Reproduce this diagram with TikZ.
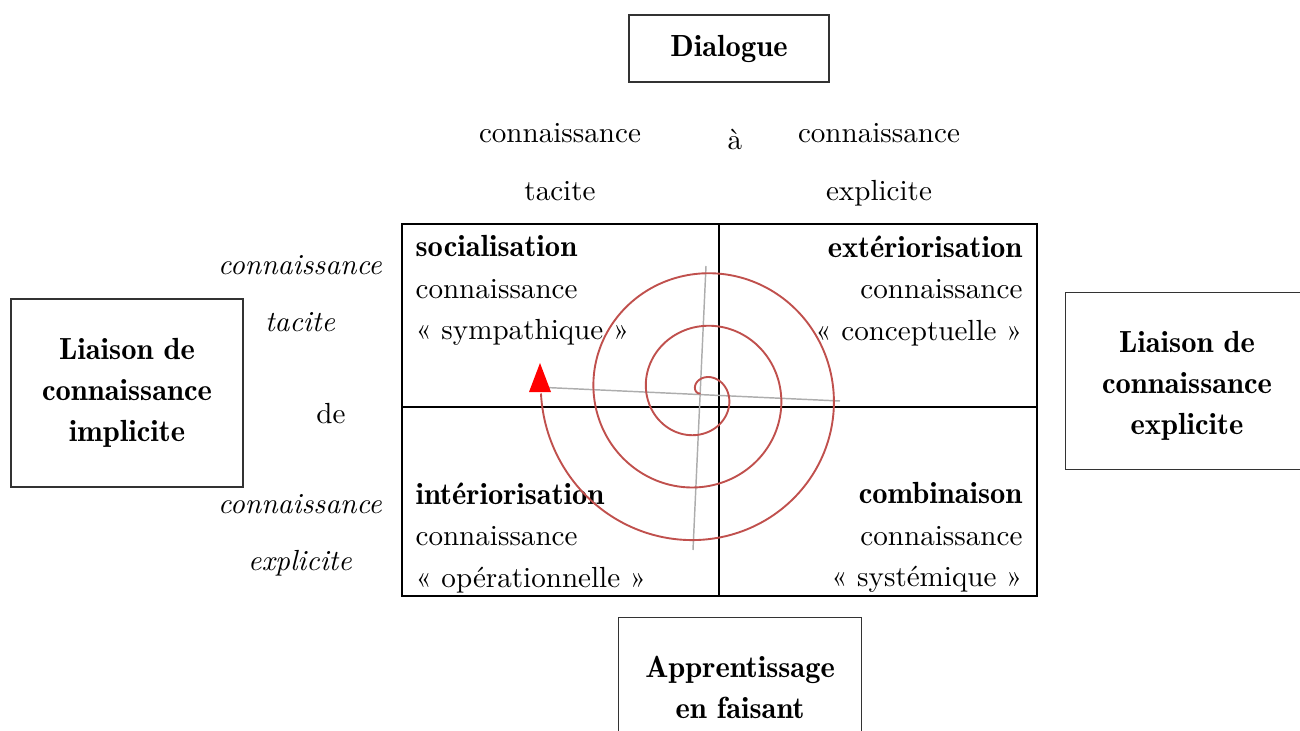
\documentclass[tikz,border=0pt]{standalone}
\definecolor{spiralred}{RGB}{192,80,77}
\newcommand\demi[1]{{\fontseries{b}\fontsize{10.5}{14.26}\selectfont #1}}
\tikzset{
  boxnode/.style={draw=black!80, line width=0.4pt, inner sep=0pt, align=center,
    font=\fontseries{b}\fontsize{10.5}{14.1}\selectfont},
  boxtext/.style={inner sep=0pt, align=center, font=\fontseries{b}\fontsize{10.5}{14.1}\selectfont},
  quadtext/.style={inner sep=0pt, font=\fontsize{10}{14.26}\selectfont},
  sidetext/.style={inner sep=0pt, align=center, font=\fontsize{10}{19.8}\selectfont},
  sideital/.style={inner sep=0pt, align=center, font=\itshape\fontsize{10}{19.6}\selectfont},
  plaintext/.style={inner sep=0pt},
  gridline/.style={line width=0.7pt},
  axisline/.style={draw=black!32, line width=0.5pt},
  spiralline/.style={draw=spiralred, line width=0.65pt},
}
\begin{document}
\begin{tikzpicture}[x=0.3436pt, y=-0.3436pt]
\useasboundingbox (0,0) rectangle (1300,731);

% boxes
\node[boxnode, minimum width=68.72pt, minimum height=23.02pt] (dialogue) at (729,48.5) {Dialogue};
\node[boxnode, minimum width=79.72pt, minimum height=64.6pt] (liaisonimp) at (127,393) {Liaison de\\connaissance\\implicite};
\node[boxnode, minimum width=83.84pt, minimum height=60.82pt, anchor=north west] (liaisonexp) at (1065,292) {};
\node[boxtext, anchor=north] (liaisonexptext) at (1187,331) {Liaison de\\connaissance\\explicite};
\node[boxnode, minimum width=83.5pt, minimum height=47.8pt, anchor=north west] (apprentissage) at (618,617) {Apprentissage\\en faisant};

% top labels
\node[sidetext, anchor=north] (toptacit) at (560,123) {connaissance\\tacite};
\node[plaintext, anchor=base] (topa) at (735,150) {à};
\node[sidetext, anchor=north] (topexplicit) at (879,123) {connaissance\\explicite};

% left labels
\node[sideital, anchor=north] (lefttacit) at (300,254.5) {connaissance\\tacite};
\node[plaintext, anchor=base] (leftde) at (331,423) {de};
\node[sideital, anchor=north] (leftexplicit) at (300,494) {connaissance\\explicite};

% grid
\coordinate (gNW) at (402,224);
\coordinate (gSE) at (1037,596);
\coordinate (gN) at (719,224);
\coordinate (gS) at (719,596);
\coordinate (gW) at (402,407);
\coordinate (gE) at (1037,407);
\draw[gridline] (gNW) rectangle (gSE);
\draw[gridline] (gN) -- (gS);
\draw[gridline] (gW) -- (gE);

% quadrant texts
\node[quadtext, align=left, anchor=north west] (socialisation) at (415,235)
  {\demi{socialisation}\\connaissance\\«~sympathique~»};
\node[quadtext, align=right, anchor=north east] (exteriorisation) at (1023,235)
  {\demi{extériorisation}\\connaissance\\«~conceptuelle~»};
\node[quadtext, align=left, anchor=north west] (interiorisation) at (415,482)
  {\demi{intériorisation}\\connaissance\\«~opérationnelle~»};
\node[quadtext, align=right, anchor=north east] (combinaison) at (1023,482)
  {\demi{combinaison}\\connaissance\\«~systémique~»};

% gray axes
\coordinate (axW) at (535,387);
\coordinate (axE) at (840,401);
\coordinate (axN) at (706,266);
\coordinate (axS) at (693,550);
\draw[axisline] (axW) -- (axE);
\draw[axisline] (axN) -- (axS);

% spiral
\draw[spiralline] plot[domain=171:1260, samples=600, smooth]
  ({700.5+0.1465*(\x-171)*cos(\x)}, {393.5+0.1465*(\x-171)*sin(\x)});
\fill[red] (529,392) -- (551,392) -- (540,363) -- cycle;
\end{tikzpicture}
\end{document}
